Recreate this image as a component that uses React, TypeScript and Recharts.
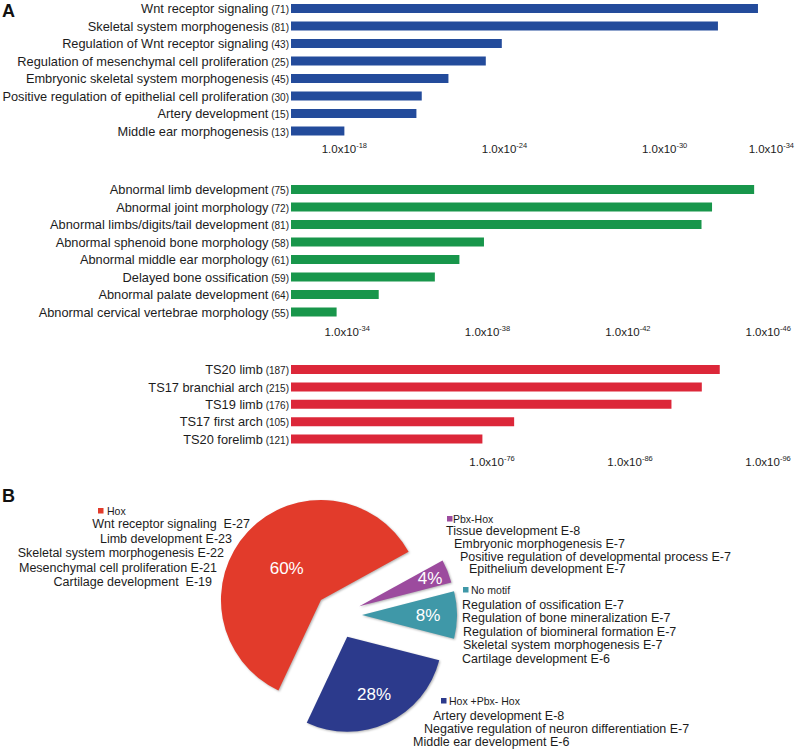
import { BarChart, Bar, XAxis, YAxis, PieChart, Pie, Cell } from "recharts";

const FONT = '"Liberation Sans", Arial, Helvetica, sans-serif';
const INK = "#1c1c1c";

// A, top: GO biological process (-log10 p)
const goTerms = [
  "Wnt receptor signaling",
  "Skeletal system morphogenesis",
  "Regulation of Wnt receptor signaling",
  "Regulation of mesenchymal cell proliferation",
  "Embryonic skeletal system morphogenesis",
  "Positive regulation of epithelial cell proliferation",
  "Artery development",
  "Middle ear morphogenesis",
];
const goCounts = [71, 81, 43, 25, 45, 30, 15, 13];
const goLogP = [33.5, 32.0, 23.9, 23.3, 21.9, 20.9, 20.7, 18.0];
const goTicks = [18, 24, 30, 34];

// A, middle: mouse phenotype
const mpTerms = [
  "Abnormal limb development",
  "Abnormal joint morphology",
  "Abnormal limbs/digits/tail development",
  "Abnormal sphenoid bone morphology",
  "Abnormal middle ear morphology",
  "Delayed bone ossification",
  "Abnormal palate development",
  "Abnormal cervical vertebrae morphology",
];
const mpCounts = [75, 72, 81, 58, 61, 59, 64, 55];
const mpLogP = [45.6, 44.4, 44.1, 37.9, 37.2, 36.5, 34.9, 33.7];
const mpTicks = [34, 38, 42, 46];

// A, bottom: expression
const exTerms = ["TS20 limb", "TS17 branchial arch", "TS19 limb", "TS17 first arch", "TS20 forelimb"];
const exCounts = [187, 215, 176, 105, 121];
const exLogP = [92.5, 91.2, 89.0, 77.6, 75.3];
const exTicks = [76, 86, 96];

// B: motif classes (pie order, counter-clockwise from the right)
const motifNames = ["No motif", "Pbx-Hox", "Hox", "Hox +Pbx- Hox"];
const motifShare = [8, 4, 60, 28];
const motifColors = ["#3f98a8", "#9c4b9e", "#e23b2b", "#2c3a8c"];

const hoxTerms = [
  "Wnt receptor signaling  E-27",
  "Limb development E-23",
  "Skeletal system morphogenesis E-22",
  "Mesenchymal cell proliferation E-21",
  "Cartilage development  E-19",
];
const pbxTerms = [
  "Tissue development E-8",
  "Embryonic morphogenesis E-7",
  "Positive regulation of developmental process E-7",
  "Epithelium development E-7",
];
const noMotifTerms = [
  "Regulation of ossification E-7",
  "Regulation of bone mineralization E-7",
  "Regulation of biomineral formation E-7",
  "Skeletal system morphogenesis E-7",
  "Cartilage development E-6",
];
const bothTerms = [
  "Artery development E-8",
  "Negative regulation of neuron differentiation E-7",
  "Middle ear development E-6",
];

const RAD = Math.PI / 180;

function ExpTick(props: any) {
  const { x, y, payload, dy } = props;
  return (
    <text x={x} y={y + dy} textAnchor="middle" fill={INK} fontFamily={FONT} fontSize={11.5}>
      <tspan>1.0x10</tspan>
      <tspan fontSize={7.5} dy={-5}>-{payload.value}</tspan>
    </text>
  );
}

function EnrichBars(props: any) {
  const { terms, counts, values, ticks, domain, color, top, plotHeight, tickDy } = props;
  const rows = terms.map((t: string, i: number) => ({ term: t, value: values[i] }));
  const TermTick = (p: any) => (
    <text x={p.x} y={p.y} dy={4.5} textAnchor="end" fill={INK} fontFamily={FONT}>
      <tspan fontSize={12.8}>{p.payload.value}</tspan>
      <tspan fontSize={10}> ({counts[terms.indexOf(p.payload.value)]})</tspan>
    </text>
  );
  return (
    <div style={{ position: "absolute", left: 0, top }}>
      <BarChart
        width={800}
        height={plotHeight + 30}
        data={rows}
        layout="vertical"
        margin={{ top: 0, right: 2, bottom: 0, left: 0 }}
        barSize={9}
      >
        <XAxis
          type="number"
          domain={domain}
          ticks={ticks}
          allowDataOverflow
          interval={0}
          axisLine={false}
          tickLine={false}
          tickSize={0}
          tickMargin={0}
          height={30}
          tick={<ExpTick dy={tickDy} />}
        />
        <YAxis
          type="category"
          dataKey="term"
          width={291}
          interval={0}
          axisLine={false}
          tickLine={false}
          tickSize={0}
          tickMargin={2}
          tick={TermTick}
        />
        <Bar dataKey="value" fill={color} isAnimationActive={false} />
      </BarChart>
    </div>
  );
}

function TermBlock(props: any) {
  const { name, color, terms, swatch, labelX, labelY, xs, ys, anchor } = props;
  return (
    <g fontFamily={FONT} fill={INK}>
      <rect x={swatch[0]} y={swatch[1]} width={5.5} height={5.5} fill={color} />
      <text x={labelX} y={labelY} fontSize={10.5}>{name}</text>
      {terms.map((t: string, i: number) => (
        <text key={t} x={xs[i]} y={ys[i]} fontSize={12.5} textAnchor={anchor} style={{ whiteSpace: "pre" }}>
          {t}
        </text>
      ))}
    </g>
  );
}

const PIE_TOP = 484;
const pieCenter = { x: 337, y: 615 - PIE_TOP };
const pieStart = -14.4;
const explode = [25, 24, 22, 24];
const radii = [95, 95, 100, 95];
const labelR = [66, 76, 47, 63];

export default function App() {
  const pieRows = motifNames.map((n, i) => ({ name: n, share: motifShare[i] }));
  const total = motifShare.reduce((a, b) => a + b, 0);
  let acc = 0;
  const mids = motifShare.map((s) => {
    const m = pieStart + ((acc + s / 2) / total) * 360;
    acc += s;
    return m;
  });

  return (
    <div style={{ position: "absolute", left: 0, top: 0, width: 800, height: 754, background: "#fff" }}>
      <EnrichBars
        terms={goTerms}
        counts={goCounts}
        values={goLogP}
        ticks={goTicks}
        domain={[16, 35]}
        color="#234b9b"
        top={0}
        plotHeight={140}
        tickDy={13}
      />
      <EnrichBars
        terms={mpTerms}
        counts={mpCounts}
        values={mpLogP}
        ticks={mpTicks}
        domain={[32.4, 46.85]}
        color="#18964b"
        top={181}
        plotHeight={140}
        tickDy={15}
      />
      <EnrichBars
        terms={exTerms}
        counts={exCounts}
        values={exLogP}
        ticks={exTicks}
        domain={[61.43, 98.17]}
        color="#dc2739"
        top={361}
        plotHeight={87}
        tickDy={18}
      />

      <div style={{ position: "absolute", left: 0, top: PIE_TOP }}>
        <PieChart width={800} height={270} margin={{ top: 0, right: 0, bottom: 0, left: 0 }}>
          {motifNames.map((n, i) => (
            <Pie
              key={n}
              data={pieRows}
              dataKey="share"
              nameKey="name"
              cx={pieCenter.x + explode[i] * Math.cos(mids[i] * RAD)}
              cy={pieCenter.y - explode[i] * Math.sin(mids[i] * RAD)}
              innerRadius={0}
              outerRadius={radii[i]}
              startAngle={pieStart}
              endAngle={pieStart + 360}
              stroke="none"
              labelLine={false}
              isAnimationActive={false}
              label={(p: any) =>
                p.index === i ? (
                  <text
                    x={p.cx + labelR[i] * Math.cos(-p.midAngle * RAD)}
                    y={p.cy + labelR[i] * Math.sin(-p.midAngle * RAD)}
                    dy={6}
                    textAnchor="middle"
                    fill="#fff"
                    fontFamily={FONT}
                    fontSize={17}
                  >
                    {motifShare[i]}%
                  </text>
                ) : null
              }
            >
              {pieRows.map((r, j) => (
                <Cell
                  key={r.name}
                  fill={j === i ? motifColors[i] : "none"}
                  style={j === i ? { filter: "drop-shadow(1px 1.5px 1.2px rgba(0,0,0,0.3))" } : undefined}
                />
              ))}
            </Pie>
          ))}
        </PieChart>
      </div>

      <svg width={800} height={754} style={{ position: "absolute", left: 0, top: 0, pointerEvents: "none" }}>
        <text x={2} y={17} fontFamily={FONT} fontWeight="bold" fontSize={18} fill="#111">A</text>
        <text x={2} y={502} fontFamily={FONT} fontWeight="bold" fontSize={18} fill="#111">B</text>
        <TermBlock
          name={motifNames[2]}
          color={motifColors[2]}
          terms={hoxTerms}
          swatch={[98, 508]}
          labelX={107}
          labelY={515}
          xs={[250, 232, 224, 217, 212]}
          ys={[528, 542.5, 557, 571.5, 586]}
          anchor="end"
        />
        <TermBlock
          name={motifNames[1]}
          color={motifColors[1]}
          terms={pbxTerms}
          swatch={[447, 516]}
          labelX={453}
          labelY={522.5}
          xs={[446, 454, 460, 469]}
          ys={[535, 548, 560.5, 573]}
          anchor="start"
        />
        <TermBlock
          name={motifNames[0]}
          color={motifColors[0]}
          terms={noMotifTerms}
          swatch={[463, 587]}
          labelX={471}
          labelY={594}
          xs={[462, 462, 463, 463, 462]}
          ys={[608.5, 622, 635.5, 649, 662.5]}
          anchor="start"
        />
        <TermBlock
          name={motifNames[3]}
          color={motifColors[3]}
          terms={bothTerms}
          swatch={[441, 698]}
          labelX={449}
          labelY={705}
          xs={[433, 424, 413]}
          ys={[720, 733, 746]}
          anchor="start"
        />
      </svg>
    </div>
  );
}
